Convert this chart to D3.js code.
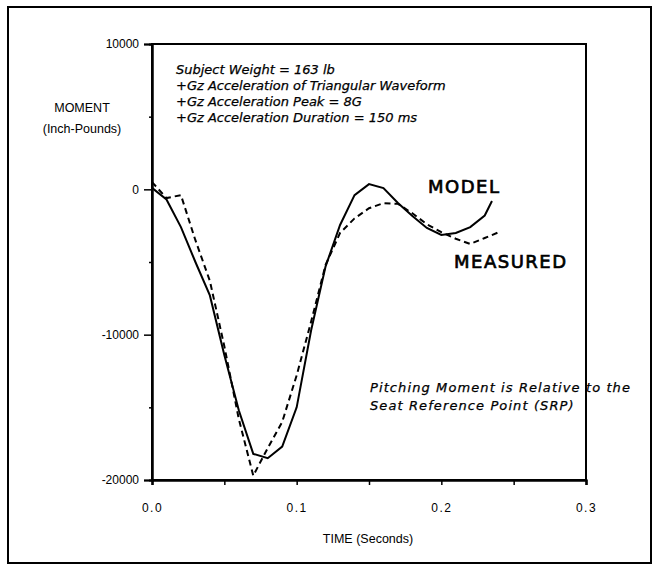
<!DOCTYPE html>
<html>
  <head>
    <meta charset="utf-8">
    <title>Pitching Moment</title>
    <script src="https://cdnjs.cloudflare.com/ajax/libs/d3/7.8.5/d3.min.js"></script>
    <style>
      body { margin: 0; background: #fff; }
      text { font-family: "Liberation Sans", Arial, sans-serif; fill: #000; }
      .note { font-family: "DejaVu Sans", sans-serif; font-style: italic; font-size: 13px; stroke: #000; stroke-width: 0.25px; }
      .big { font-family: "DejaVu Sans", sans-serif; font-size: 18px; letter-spacing: 1.5px; stroke: #000; stroke-width: 0.7px; }
    </style>
  </head>
  <body>

    <svg class="chart" width="653" height="566"></svg>

    <script>

      // time in seconds, moment in inch-pounds
      var modelTime = [0, 0.01, 0.02, 0.03, 0.04, 0.05, 0.06, 0.07, 0.08, 0.09, 0.10, 0.11, 0.12,
                       0.13, 0.14, 0.15, 0.16, 0.17, 0.18, 0.19, 0.20, 0.21, 0.22, 0.23, 0.235];
      var modelMoment = [100, -700, -2600, -5000, -7300, -11400, -15200, -18200, -18500, -17700, -15000, -9700, -5300,
                         -2450, -400, 360, 90, -940, -1830, -2660, -3140, -3000, -2600, -1800, -800];

      var measuredTime = [0, 0.01, 0.02, 0.03, 0.04, 0.05, 0.06, 0.07, 0.08, 0.09, 0.10, 0.11, 0.12,
                          0.13, 0.14, 0.15, 0.16, 0.17, 0.18, 0.19, 0.20, 0.21, 0.22, 0.23, 0.24];
      var measuredMoment = [500, -600, -400, -3500, -6300, -10800, -15800, -19700, -17800, -16000, -12800, -9100, -5200,
                            -3000, -2000, -1300, -950, -1000, -1650, -2400, -2950, -3400, -3760, -3350, -2940];

      var xTicks = [0, 0.1, 0.2, 0.3];
      var xMinor = [0.05, 0.15, 0.25];
      var yTicks = [10000, 0, -10000, -20000];
      var yMinor = [5000, -5000, -15000];

      var notes = [
        "Subject Weight = 163 lb",
        "+Gz Acceleration of Triangular Waveform",
        "+Gz Acceleration Peak = 8G",
        "+Gz Acceleration Duration = 150 ms"
      ];
      var srpNote = ["Pitching Moment is Relative to the", "Seat Reference Point (SRP)"];

      var svg = d3.select("svg.chart");

      var x = d3.scaleLinear().domain([0, 0.3]).range([152, 586]);
      var y = d3.scaleLinear().domain([-20000, 10000]).range([480, 44]);

      // outer frame
      svg.append("rect")
        .attr("x", 8).attr("y", 7)
        .attr("width", 643).attr("height", 556)
        .attr("fill", "none").attr("stroke", "#000").attr("stroke-width", 2);

      // plot box
      svg.append("rect")
        .attr("x", x(0)).attr("y", y(10000))
        .attr("width", x(0.3) - x(0)).attr("height", y(-20000) - y(10000))
        .attr("fill", "none").attr("stroke", "#000").attr("stroke-width", 2);

      var xAxis = svg.append("g")
        .attr("transform", "translate(0," + y(-20000) + ")")
        .call(d3.axisBottom(x).tickValues(xTicks).tickFormat(d3.format(".1f")).tickSize(5).tickPadding(18));
      xAxis.selectAll("text").attr("font-size", 12).attr("letter-spacing", "1.5px");

      svg.append("g")
        .attr("transform", "translate(0," + y(-20000) + ")")
        .call(d3.axisBottom(x).tickValues(xMinor).tickFormat("").tickSize(5));

      var yAxis = svg.append("g")
        .attr("transform", "translate(" + x(0) + ",0)")
        .call(d3.axisLeft(y).tickValues(yTicks).tickFormat(function(d) { return String(d); })
          .tickSize(8).tickPadding(5));
      yAxis.selectAll("text").attr("font-size", 12);

      svg.append("g")
        .attr("transform", "translate(" + x(0) + ",0)")
        .call(d3.axisLeft(y).tickValues(yMinor).tickFormat("").tickSize(3));

      svg.selectAll(".domain").attr("stroke-width", 2);
      svg.selectAll(".tick line").attr("stroke-width", 1.5);

      // axis titles
      svg.append("text").attr("x", 82).attr("y", 112).attr("text-anchor", "middle")
        .attr("font-size", 12.5).text("MOMENT");
      svg.append("text").attr("x", 82).attr("y", 133).attr("text-anchor", "middle")
        .attr("font-size", 12.5).text("(Inch-Pounds)");
      svg.append("text").attr("x", 368).attr("y", 543).attr("text-anchor", "middle")
        .attr("font-size", 12.5).text("TIME (Seconds)");

      var line = d3.line()
        .x(function(d) { return x(d[0]); })
        .y(function(d) { return y(d[1]); });

      svg.append("path")
        .datum(d3.zip(measuredTime, measuredMoment))
        .attr("d", line)
        .attr("fill", "none").attr("stroke", "#000").attr("stroke-width", 2)
        .attr("stroke-dasharray", "6,4");

      svg.append("path")
        .datum(d3.zip(modelTime, modelMoment))
        .attr("d", line)
        .attr("fill", "none").attr("stroke", "#000").attr("stroke-width", 2);

      svg.append("g").selectAll("text")
        .data(notes)
        .enter()
          .append("text")
            .attr("class", "note")
            .attr("x", 176)
            .attr("y", function(d, i) { return 74 + 16 * i; })
            .text(function(d) { return d; });

      svg.append("g").selectAll("text")
        .data(srpNote)
        .enter()
          .append("text")
            .attr("class", "note")
            .attr("x", 370)
            .attr("letter-spacing", "1.1px")
            .attr("y", function(d, i) { return 392 + 18 * i; })
            .text(function(d) { return d; });

      svg.append("text").attr("class", "big").attr("x", 428).attr("y", 193).text("MODEL");
      svg.append("text").attr("class", "big").attr("x", 454).attr("y", 268).text("MEASURED");

    </script>
  </body>
</html>
